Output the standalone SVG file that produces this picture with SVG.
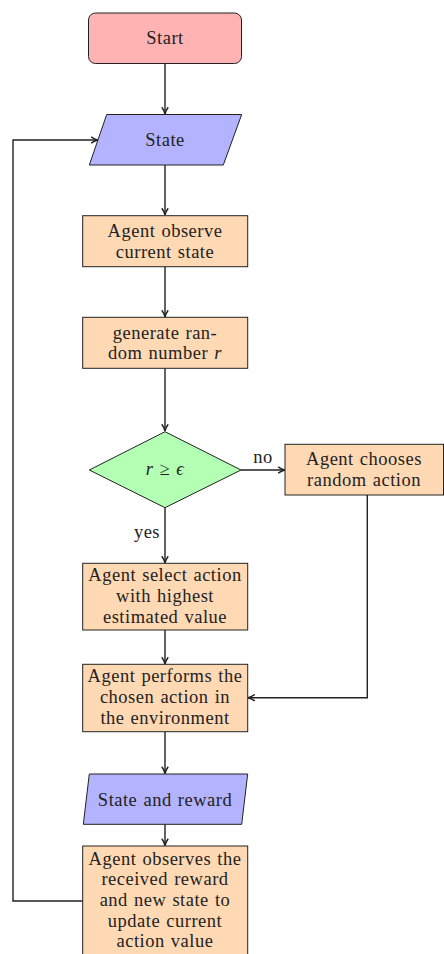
<svg xmlns="http://www.w3.org/2000/svg" width="444" height="954" viewBox="0 0 444 954">
<style>
text{font-family:"Liberation Serif","Times New Roman",serif;font-size:18.5px;letter-spacing:0.5px;word-spacing:1px;fill:#222;text-anchor:middle}
.box{fill:#ffd9b3;stroke:#222;stroke-width:1}
.io{fill:#b3b3ff;stroke:#222;stroke-width:1}
.start{fill:#ffb3b3;stroke:#222;stroke-width:1}
.dec{fill:#b3ffb3;stroke:#222;stroke-width:1}
.edge{fill:none;stroke:#222;stroke-width:1.4;marker-end:url(#arr)}
</style>
<defs>
<marker id="arr" viewBox="0 0 10 10" refX="9.5" refY="5" markerWidth="8" markerHeight="8" markerUnits="userSpaceOnUse" orient="auto">
<path d="M1,1 Q5,4 9.5,5 Q5,6 1,9" fill="none" stroke="#222" stroke-width="1.8"/>
</marker>
</defs>
<g id="connectors">
<path class="edge" d="M165,63.5 V114"/>
<path class="edge" d="M165,165 V215"/>
<path class="edge" d="M165,266.7 V317"/>
<path class="edge" d="M165,368.3 V431"/>
<path class="edge" d="M165,507.7 V563"/>
<path class="edge" d="M241,470 H285"/>
<path class="edge" d="M367.3,495 V697.7 H248"/>
<path class="edge" d="M165,630 V664"/>
<path class="edge" d="M165,731.7 V773.5"/>
<path class="edge" d="M165,824.3 V845.5"/>
<path class="edge" d="M82.7,901 H13 V140 H98"/>
<text x="263" y="463">no</text>
<text x="147" y="538">yes</text>
</g>
<g id="start">
<rect class="start" x="88.5" y="13" width="153" height="50.5" rx="7"/>
<text x="165" y="44">Start</text>
</g>
<g id="state">
<polygon class="io" points="106.7,114.5 241.7,114.5 223.3,165 89.3,165"/>
<text x="165" y="146">State</text>
</g>
<g id="observe">
<rect class="box" x="82.7" y="215.7" width="165" height="51"/>
<text x="165" y="236.5">Agent observe</text>
<text x="165" y="258">current state</text>
</g>
<g id="generate">
<rect class="box" x="82.7" y="317.3" width="165" height="51"/>
<text x="165" y="338.5">generate ran-</text>
<text x="165" y="359">dom number <tspan font-style="italic">r</tspan></text>
</g>
<g id="decision">
<polygon class="dec" points="165,431.7 241,470 165,507.7 89.3,470"/>
<text x="165" y="475"><tspan font-style="italic">r</tspan> ≥ <tspan font-style="italic">ϵ</tspan></text>
</g>
<g id="random">
<rect class="box" x="285" y="444.3" width="158.5" height="50.7"/>
<text x="364" y="465">Agent chooses</text>
<text x="364" y="485.5">random action</text>
</g>
<g id="select">
<rect class="box" x="82.7" y="563.3" width="165" height="66.7"/>
<text x="165" y="581">Agent select action</text>
<text x="165" y="602">with highest</text>
<text x="165" y="623">estimated value</text>
</g>
<g id="perform">
<rect class="box" x="82.7" y="664.3" width="165" height="67.4"/>
<text x="165" y="682">Agent performs the</text>
<text x="165" y="703">chosen action in</text>
<text x="165" y="724">the environment</text>
</g>
<g id="statereward">
<polygon class="io" points="89.3,774 247.7,774 241.7,824.3 83.3,824.3"/>
<text x="165" y="805.5">State and reward</text>
</g>
<g id="update">
<rect class="box" x="82.7" y="846" width="165" height="120"/>
<text x="165" y="864.5">Agent observes the</text>
<text x="165" y="885.3">received reward</text>
<text x="165" y="906">and new state to</text>
<text x="165" y="926.7">update current</text>
<text x="165" y="947.3">action value</text>
</g>
</svg>
